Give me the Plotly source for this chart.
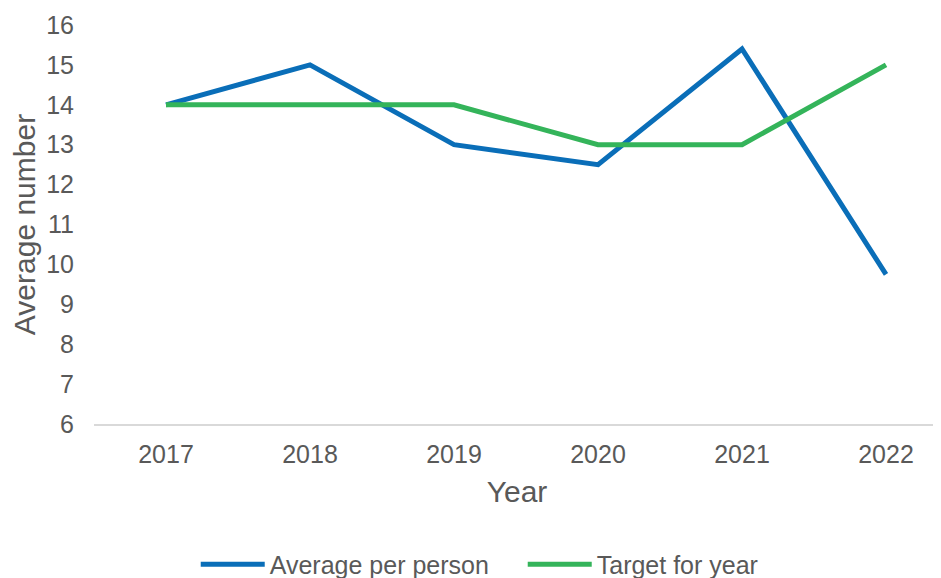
import plotly.graph_objects as go

years = ["2017", "2018", "2019", "2020", "2021", "2022"]
average_per_person = [14, 15, 13, 12.5, 15.4, 9.75]
target_for_year = [14, 14, 14, 13, 13, 15]
y_ticks = list(range(6, 17))

fig = go.Figure()
fig.add_trace(go.Scatter(x=years, y=average_per_person, mode="lines",
                         name="Average per person",
                         line=dict(color="#0A6EB8", width=5)))
fig.add_trace(go.Scatter(x=years, y=target_for_year, mode="lines",
                         name="Target for year",
                         line=dict(color="#34B45A", width=5)))

font_family = "Liberation Sans, Arial, sans-serif"
grey = "#595959"
fig.update_layout(
    width=941, height=578,
    margin=dict(l=86, r=9, t=17, b=162),
    paper_bgcolor="white", plot_bgcolor="white",
    font=dict(family=font_family, color=grey, size=25),
    xaxis=dict(
        type="category", range=[-0.5, 5.375], automargin=False,
        showgrid=False, showline=True, linecolor="#D9D9D9", linewidth=2,
        ticks="", ticklabelstandoff=7,
        tickfont=dict(size=25, color=grey),
        title=dict(text="Year", font=dict(size=30, color=grey), standoff=14),
        zeroline=False,
    ),
    yaxis=dict(
        range=[6, 16], tickvals=y_ticks, showgrid=False, zeroline=False,
        automargin=False,
        showline=False, ticks="", ticklabelstandoff=19,
        tickfont=dict(size=25, color=grey),
        title=dict(text="Average number", font=dict(size=30, color=grey), standoff=4),
    ),
    legend=dict(orientation="h", xref="container", x=0.1995, xanchor="left",
                yref="container", y=0.037, yanchor="middle",
                font=dict(size=25, color=grey), itemwidth=64, entrywidth=248,
                entrywidthmode="pixels", tracegroupgap=0),
    showlegend=True,
)

fig.write_html("out.html")
